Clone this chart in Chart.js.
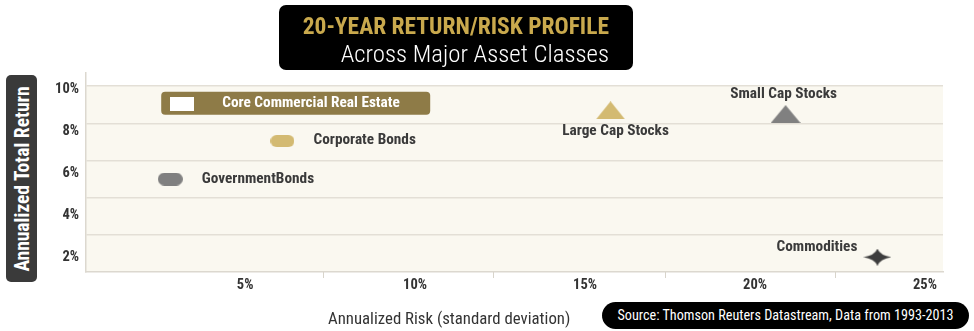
<!DOCTYPE html>
<html>
<head>
<meta charset="utf-8">
<script src="https://cdn.jsdelivr.net/npm/chart.js@4.4.1/dist/chart.umd.min.js"></script>
<style>
  html, body { margin: 0; padding: 0; background: #fff; }
  #wrap { position: relative; width: 974px; height: 331px; overflow: hidden;
          font-family: 'Roboto Condensed', 'Open Sans', sans-serif; font-stretch: condensed; }
  #chart { position: absolute; left: 0; top: 0; }
  .title-box { position: absolute; left: 279px; top: 5px; width: 354px; height: 65px;
               background: #000; border-radius: 7px; box-sizing: border-box;
               text-align: right; padding-right: 24px; }
  .title-box .l1 { color: #c9a94d; font-weight: bold; font-size: 23.5px; line-height: 27px; padding-top: 8px; }
  .title-box .l2 { color: #fff; font-weight: 300; font-size: 24.8px; line-height: 27px; }
  .y-title { position: absolute; left: 6px; top: 75px; width: 31px; height: 207px;
             background: #3a3a3a; border-radius: 5px; }
  .y-title span { position: absolute; left: 50%; top: 50%; white-space: nowrap;
                  transform: translate(-50%, -50%) rotate(-90deg);
                  color: #fff; font-weight: bold; font-size: 19.5px; }
  .x-title { position: absolute; left: 328px; top: 308px; color: #333; font-size: 16.8px; white-space: nowrap; }
  .source { position: absolute; left: 602px; top: 302px; width: 367px; height: 27px;
            background: #000; border-radius: 14px; color: #fff; font-size: 14.2px;
            line-height: 27px; text-align: center; white-space: nowrap; }
</style>
</head>
<body>
<div id="wrap">
  <canvas id="chart" width="974" height="331"></canvas>
  <div class="title-box">
    <div class="l1">20-YEAR RETURN/RISK PROFILE</div>
    <div class="l2">Across Major Asset Classes</div>
  </div>
  <div class="y-title"><span>Annualized Total Return</span></div>
  <div class="x-title">Annualized Risk (standard deviation)</div>
  <div class="source">Source: Thomson Reuters Datastream, Data from 1993-2013</div>
</div>
<script>
// asset classes
const assets = ['Core Commercial Real Estate', 'Corporate Bonds', 'GovernmentBonds',
                'Large Cap Stocks', 'Small Cap Stocks', 'Commodities'];
const risk = [3.15, 6.1, 2.8, 15.75, 20.9, 23.6];       // annualized risk, %
const returns = [9.05, 7.05, 5.0, 8.7, 8.5, 0.8];       // annualized total return, %
const xTicks = [5, 10, 15, 20, 25];
const yTicks = [2, 4, 6, 8, 10];
const xTickMarks = [7.3, 12.3, 17.35, 22.35];

const FONT = "'Roboto Condensed', 'Open Sans', sans-serif";
const GOLD = '#d3ba72';
const GRAY = '#808080';

function makeMarker(w, h, color, shape) {
  const c = document.createElement('canvas');
  c.width = w; c.height = h;
  const ctx = c.getContext('2d');
  ctx.fillStyle = color;
  ctx.beginPath();
  if (shape === 'pill') {
    ctx.roundRect(0, 0, w, h, h / 2);
  } else if (shape === 'triangle') {
    ctx.moveTo(w / 2, 0); ctx.lineTo(w, h); ctx.lineTo(0, h); ctx.closePath();
  } else if (shape === 'star') {
    const cx = w / 2, cy = h / 2, kx = w * 0.1, ky = h * 0.1;
    ctx.moveTo(cx, 0);
    ctx.quadraticCurveTo(cx + kx, cy - ky, w, cy);
    ctx.quadraticCurveTo(cx + kx, cy + ky, cx, h);
    ctx.quadraticCurveTo(cx - kx, cy + ky, 0, cy);
    ctx.quadraticCurveTo(cx - kx, cy - ky, cx, 0);
  } else {
    ctx.rect(0, 0, w, h);
  }
  ctx.fill();
  return c;
}

const markers = [
  makeMarker(24, 14, '#ffffff', 'rect'),
  makeMarker(24, 12, GOLD, 'pill'),
  makeMarker(25, 13, GRAY, 'pill'),
  makeMarker(29, 18, GOLD, 'triangle'),
  makeMarker(30, 18, GRAY, 'triangle'),
  makeMarker(28, 17, '#3d3d3d', 'star')
];

// where each label sits relative to its marker
const labelPlace = [
  { dx: 40, dy: -1, align: 'left', color: '#fff', box: { x0: -21, x1: 248, y0: -12, y1: 11, color: '#8e7b47' } },
  { dx: 31, dy: -1, align: 'left', color: '#3a3a3a' },
  { dx: 31.5, dy: 0, align: 'left', color: '#3a3a3a' },
  { dx: 5, dy: 21, align: 'center', color: '#3a3a3a' },
  { dx: -2, dy: -19.5, align: 'center', color: '#3a3a3a' },
  { dx: -20, dy: -10, align: 'right', color: '#3a3a3a' }
];

const backdrop = {
  id: 'backdrop',
  beforeDraw(chart) {
    const { ctx, chartArea, scales } = chart;
    const top = scales.y.getPixelForValue(10);
    ctx.save();
    ctx.fillStyle = '#faf8f0';
    ctx.fillRect(chartArea.left, top, chartArea.right - chartArea.left, chartArea.bottom - top);
    ctx.restore();
  },
  beforeDatasetsDraw(chart) {
    const { ctx } = chart;
    const pts = chart.getDatasetMeta(0).data;
    ctx.save();
    labelPlace.forEach((p, i) => {
      if (!p.box) return;
      const b = p.box;
      ctx.fillStyle = b.color;
      ctx.beginPath();
      ctx.roundRect(pts[i].x + b.x0, pts[i].y + b.y0, b.x1 - b.x0, b.y1 - b.y0, 4);
      ctx.fill();
    });
    ctx.restore();
  },
  afterDraw(chart) {
    const { ctx, scales, chartArea } = chart;
    const pts = chart.getDatasetMeta(0).data;
    ctx.save();
    // short tick marks under the x axis
    ctx.strokeStyle = '#d8d4cb';
    ctx.lineWidth = 1;
    xTickMarks.forEach(v => {
      const x = Math.round(scales.x.getPixelForValue(v)) + 0.5;
      ctx.beginPath();
      ctx.moveTo(x, chartArea.bottom);
      ctx.lineTo(x, chartArea.bottom + 6);
      ctx.stroke();
    });
    ctx.font = 'bold 15.3px ' + FONT;
    ctx.textBaseline = 'middle';
    labelPlace.forEach((p, i) => {
      ctx.fillStyle = p.color;
      ctx.textAlign = p.align;
      ctx.fillText(assets[i], pts[i].x + p.dx, pts[i].y + p.dy);
    });
    ctx.restore();
  }
};

new Chart(document.getElementById('chart'), {
  type: 'scatter',
  data: {
    labels: assets,
    datasets: [{
      data: risk.map((r, i) => ({ x: r, y: returns[i] })),
      pointStyle: markers,
      pointRadius: 10,
      pointHoverRadius: 10
    }]
  },
  options: {
    responsive: false,
    animation: false,
    events: [],
    layout: { padding: { top: 73, right: 31, bottom: 0, left: 0 } },
    plugins: { legend: { display: false }, tooltip: { enabled: false } },
    scales: {
      x: {
        type: 'linear',
        min: 0.32, max: 25.53,
        afterBuildTicks: s => { s.ticks = xTicks.map(v => ({ value: v })); },
        afterFit: s => { s.height = 59; },
        grid: { display: false, drawTicks: false },
        border: { display: true, color: '#dcd8cf', width: 1.5 },
        ticks: {
          callback: v => v + '%',
          color: '#333', padding: 5, maxRotation: 0, autoSkip: false,
          font: { family: FONT, weight: 'bold', size: 14.5 }
        }
      },
      y: {
        type: 'linear', position: 'left', weight: 0,
        min: 0, max: 10.71,
        afterBuildTicks: s => { s.ticks = yTicks.map(v => ({ value: v })); },
        afterFit: s => { s.width = 0; },
        ticks: { display: false },
        grid: { color: '#e3dfd6', lineWidth: 1.5, drawTicks: false },
        border: { display: true, color: '#dcd8cf', width: 1.5 }
      },
      yl: {
        type: 'linear', position: 'left', weight: 1,
        min: 1.28, max: 10.76,
        afterBuildTicks: s => { s.ticks = yTicks.map(v => ({ value: v })); },
        afterFit: s => { s.width = 86; },
        grid: { display: false, drawTicks: false },
        border: { display: false },
        ticks: {
          callback: v => v + '%',
          color: '#333', padding: 7,
          font: { family: FONT, weight: 'bold', size: 14.5 }
        }
      }
    }
  },
  plugins: [backdrop]
});
</script>
</body>
</html>
